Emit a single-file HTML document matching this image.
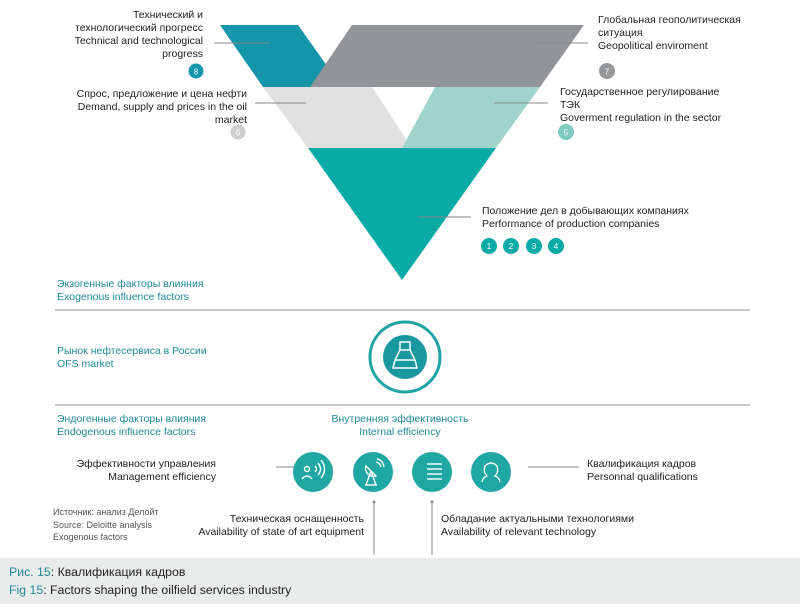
<!DOCTYPE html>
<html><head><meta charset="utf-8"><style>
body{margin:0;width:800px;height:607px;background:#fff;position:relative;overflow:hidden;font-family:"Liberation Sans","Noto Sans CJK SC",sans-serif;font-size:10.5px;color:#222;}
.t{position:absolute;line-height:13px;white-space:nowrap;}
.r{text-align:right;}
.c{text-align:center;}
.teal{color:#1f8a98;}
svg{position:absolute;left:0;top:0;}
</style></head><body>
<svg width="800" height="607">
<polygon points="220,25 298,25 342,87 263,87" fill="#1595aa"/>
<polygon points="352,25 584,25 540,87 310,87" fill="#929497"/>
<polygon points="263,87 372,87 412,148 308,148" fill="#e1e1e1"/>
<polygon points="435,87 540,87 496,148 402,148" fill="#9fd4cc"/>
<polygon points="308,148 496,148 402,280" fill="#0aaba6"/>
<g stroke="#888" stroke-width="1">
<line x1="214" y1="43" x2="270" y2="43"/><line x1="255" y1="103" x2="306" y2="103"/>
<line x1="538" y1="43" x2="588" y2="43"/><line x1="494" y1="103" x2="548" y2="103"/>
<line x1="418" y1="217" x2="471" y2="217"/>
<line x1="276" y1="467" x2="333" y2="467"/><line x1="528" y1="467" x2="579" y2="467"/>
<line x1="374" y1="502" x2="374" y2="555"/><line x1="432" y1="502" x2="432" y2="555"/>
</g>
<g stroke="#c8c8c8" stroke-width="2"><line x1="55" y1="310" x2="750" y2="310"/><line x1="55" y1="405" x2="750" y2="405"/></g>
<circle cx="196" cy="71" r="7.5" fill="#1595aa"/><text x="196" y="74.5" font-size="8" fill="#fff" text-anchor="middle" font-family="Liberation Sans">8</text>
<circle cx="238" cy="132" r="7.5" fill="#cfcfcf"/><text x="238" y="135.5" font-size="8" fill="#fff" text-anchor="middle" font-family="Liberation Sans">6</text>
<circle cx="607" cy="71" r="8" fill="#969799"/><text x="607" y="74.5" font-size="8" fill="#fff" text-anchor="middle" font-family="Liberation Sans">7</text>
<circle cx="566" cy="132" r="8" fill="#7ecbc0"/><text x="566" y="135.5" font-size="8" fill="#fff" text-anchor="middle" font-family="Liberation Sans">5</text>
<g fill="#0aaba6"><circle cx="489" cy="246" r="8"/><circle cx="511" cy="246" r="8"/><circle cx="534" cy="246" r="8"/><circle cx="556" cy="246" r="8"/></g>
<g fill="#fff" font-size="8" text-anchor="middle" font-family="Liberation Sans"><text x="489" y="249">1</text><text x="511" y="249">2</text><text x="534" y="249">3</text><text x="556" y="249">4</text></g>
<circle cx="405" cy="357" r="35" fill="none" stroke="#1fa3a3" stroke-width="3"/>
<circle cx="405" cy="357" r="22" fill="#1a98a0"/>
<g stroke="#fff" stroke-width="1.5" fill="none"><rect x="400" y="342" width="10" height="8"/><path d="M400 350 L395 360 L393 368 L417 368 L415 360 L410 350"/><line x1="395" y1="360" x2="415" y2="360"/></g>
<g fill="#1fa8a3"><circle cx="313" cy="472" r="20"/><circle cx="373" cy="472" r="20"/><circle cx="432" cy="472" r="20"/><circle cx="491" cy="472" r="20"/></g>
<g stroke="#fff" stroke-width="1.4" fill="none">
<circle cx="307" cy="469" r="2.5"/><path d="M302 479 q5 -6 10 0"/><path d="M315 466 q3 3 0 6"/><path d="M318 463 q5 6 0 12"/><path d="M321 460 q7 9 0 18"/>
<path d="M366 466 a8 8 0 0 0 10 10 z"/><line x1="371" y1="471" x2="366" y2="485"/><line x1="371" y1="471" x2="376" y2="485"/><line x1="365" y1="485" x2="377" y2="485"/><path d="M376 462 q4 1 5 5"/><path d="M377 459 q6 1 7 8"/>
<line x1="427" y1="464" x2="442" y2="464"/><line x1="427" y1="469" x2="442" y2="469"/><line x1="427" y1="474" x2="442" y2="474"/><line x1="427" y1="479" x2="442" y2="479"/>
<path d="M482 482 q1 -5 5 -6 q-4 -4 -2 -10 q6 -6 12 0 q2 6 -2 10 q4 1 5 6"/>
</g>
<g fill="#888"><circle cx="374" cy="502" r="1.5"/><circle cx="432" cy="502" r="1.5"/></g>
<rect x="0" y="558" width="800" height="46" fill="#eaebeb"/>
</svg>
<div class="t r" style="right:597px;top:9px;">Технический и<br>технологический прогресс<br>Technical and technological<br>progress</div>
<div class="t r" style="right:553px;top:88px;">Спрос, предложение и цена нефти<br>Demand, supply and prices in the oil<br>market</div>
<div class="t" style="left:598px;top:14px;">Глобальная геополитическая<br>ситуация<br>Geopolitical enviroment</div>
<div class="t" style="left:560px;top:86px;">Государственное регулирование<br>ТЭК<br>Goverment regulation in the sector</div>
<div class="t" style="left:482px;top:205px;">Положение дел в добывающих компаниях<br>Performance of production companies</div>
<div class="t teal" style="left:57px;top:278px;">Экзогенные факторы влияния<br>Exogenous influence factors</div>
<div class="t teal" style="left:57px;top:345px;">Рынок нефтесервиса в России<br>OFS market</div>
<div class="t teal" style="left:57px;top:413px;">Эндогенные факторы влияния<br>Endogenous influence factors</div>
<div class="t teal c" style="left:310px;width:180px;top:413px;">Внутренняя эффективность<br>Internal efficiency</div>
<div class="t r" style="right:584px;top:458px;">Эффективности управления<br>Management efficiency</div>
<div class="t" style="left:587px;top:458px;">Квалификация кадров<br>Personnal qualifications</div>
<div class="t" style="left:53px;top:506px;font-size:9px;color:#555;line-height:12.5px;">Источник: анализ Делойт<br>Source: Deloitte analysis<br>Exogenous factors</div>
<div class="t r" style="right:436px;top:513px;">Техническая оснащенность<br>Availability of state of art equipment</div>
<div class="t" style="left:441px;top:513px;">Обладание актуальными технологиями<br>Availability of relevant technology</div>
<div class="t" style="left:9px;top:563px;font-size:12.3px;line-height:18px;color:#222;"><span class="teal">Рис. 15</span>: Квалификация кадров<br><span class="teal">Fig 15</span>: Factors shaping the oilfield services industry</div>
</body></html>
